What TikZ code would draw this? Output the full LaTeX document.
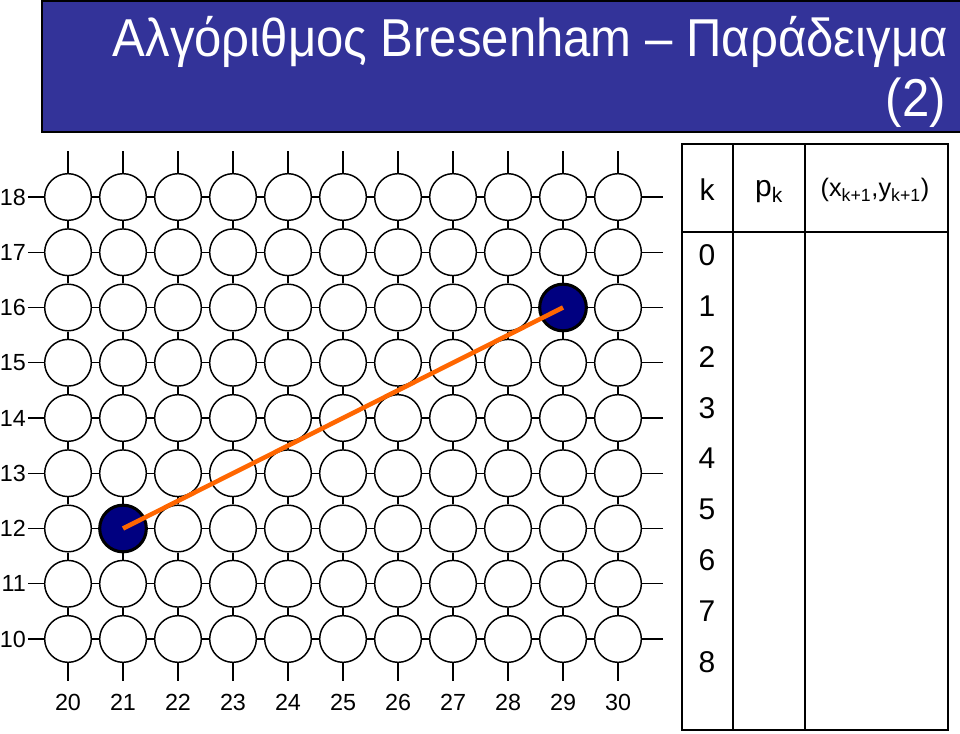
\documentclass[tikz,border=0pt]{standalone}
\usepackage{fontspec}
\setmainfont{Liberation Sans}
\newfontfamily\titlefont[FakeStretch=0.92]{Liberation Sans}
\definecolor{titleblue}{RGB}{51,51,153}
\definecolor{pixnavy}{RGB}{0,0,128}
\definecolor{lineorange}{RGB}{255,102,0}
\tikzset{
  pix/.style={circle,draw=black,fill=white,minimum size=35pt,inner sep=0pt,line width=1.1pt},
  pixon/.style={pix,fill=pixnavy,line width=2.3pt},
  gridline/.style={line width=1.1pt,black},
  axlab/.style={font=\fontsize{17.5}{20}\selectfont,inner sep=1.5pt},
  tabtxt/.style={font=\fontsize{22.5}{26}\selectfont,inner sep=0pt},
  tabhead/.style={font=\fontsize{19}{22}\selectfont,inner sep=0pt},
  titletxt/.style={font=\titlefont\fontsize{40}{46}\selectfont,text=white,inner sep=0pt},
  bresline/.style={lineorange,line width=3.4pt}
}
\begin{document}
\begin{tikzpicture}[x=0.75pt,y=-0.75pt]
\useasboundingbox (0,0) rectangle (960,734);
% title bar
\draw[fill=titleblue,line width=2pt] (42,1) rectangle (964,132);
\node[titletxt,anchor=base east] (title1) at (948,57) {Αλγόριθμος Bresenham – Παράδειγμα};
\node[titletxt,anchor=base east] (title2) at (946,117) {(2)};
% grid of pixels
\foreach \i in {20,...,30}{
  \foreach \j in {10,...,18}{
    \node[pix] (c-\i-\j) at ({68+55*(\i-20)},{197+55.25*(18-\j)}) {};
  }
}
\node[pixon] at (c-21-12) (on-a) {};
\node[pixon] at (c-29-16) (on-b) {};
% horizontal connectors
\foreach \i in {20,...,29}{
  \pgfmathtruncatemacro\n{\i+1}
  \foreach \j in {10,...,18}{
    \draw[gridline] (c-\i-\j) -- (c-\n-\j);
  }
}
% vertical connectors
\foreach \j in {10,...,17}{
  \pgfmathtruncatemacro\m{\j+1}
  \foreach \i in {20,...,30}{
    \draw[gridline] (c-\i-\j) -- (c-\i-\m);
  }
}
% stubs top, bottom, right
\foreach \i in {20,...,30}{
  \draw[gridline] (c-\i-18.north) -- ++(0,-22);
  \draw[gridline] (c-\i-10.south) -- ++(0,18);
  \node[axlab] (x-\i) at ({68+55*(\i-20)},702) {\i};
}
\foreach \j in {10,...,18}{
  \draw[gridline] (c-30-\j.east) -- ++(21,0);
  \node[axlab,anchor=east] (y-\j) at (28,{197+55.25*(18-\j)}) {\j};
  \draw[gridline] (y-\j.east) -- (c-20-\j);
}
% the line
\draw[bresline] (on-a.center) -- (on-b.center);
% table
\draw[line width=2.2pt] (682,144) rectangle (948,730);
\draw[line width=1.1pt] (733,144) -- (733,730);
\draw[line width=1.1pt] (805,144) -- (805,730);
\draw[line width=1.1pt] (682,232) -- (948,232);
\node[tabtxt] (hk) at (707,190) {k};
\node[tabtxt] (hp) at (769,192) {p\textsubscript{k}};
\node[tabhead] (hxy) at (875,190) {(x\textsubscript{k+1},y\textsubscript{k+1})};
\foreach \k in {0,...,8}{
  \node[tabtxt] (k-\k) at (707,{255+50.9*\k}) {\k};
}
\end{tikzpicture}
\end{document}
